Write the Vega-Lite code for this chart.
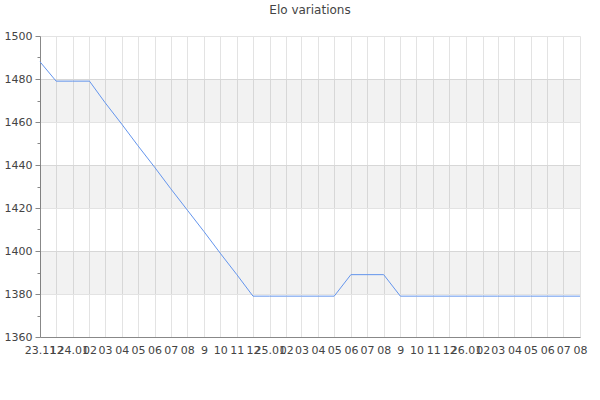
{
  "$schema": "https://vega.github.io/schema/vega-lite/v6.json",
  "width": 540,
  "height": 301,
  "autosize": {"type": "none"},
  "padding": {"left": 40, "top": 36, "right": 20, "bottom": 63},
  "title": {
    "text": "Elo variations",
    "font": "DejaVu Sans",
    "fontSize": 12,
    "fontWeight": "normal",
    "color": "#444",
    "offset": 13
  },
  "datasets": {
    "elo": [
      {"month": "2023-11-01", "elo": 1488},
      {"month": "2023-12-01", "elo": 1479},
      {"month": "2024-01-01", "elo": 1479},
      {"month": "2024-02-01", "elo": 1479},
      {"month": "2024-03-01", "elo": 1469},
      {"month": "2024-04-01", "elo": 1459},
      {"month": "2024-05-01", "elo": 1449},
      {"month": "2024-06-01", "elo": 1439},
      {"month": "2024-07-01", "elo": 1429},
      {"month": "2024-08-01", "elo": 1419},
      {"month": "2024-09-01", "elo": 1409},
      {"month": "2024-10-01", "elo": 1399},
      {"month": "2024-11-01", "elo": 1389},
      {"month": "2024-12-01", "elo": 1379},
      {"month": "2025-01-01", "elo": 1379},
      {"month": "2025-02-01", "elo": 1379},
      {"month": "2025-03-01", "elo": 1379},
      {"month": "2025-04-01", "elo": 1379},
      {"month": "2025-05-01", "elo": 1379},
      {"month": "2025-06-01", "elo": 1389},
      {"month": "2025-07-01", "elo": 1389},
      {"month": "2025-08-01", "elo": 1389},
      {"month": "2025-09-01", "elo": 1379},
      {"month": "2025-10-01", "elo": 1379},
      {"month": "2025-11-01", "elo": 1379},
      {"month": "2025-12-01", "elo": 1379},
      {"month": "2026-01-01", "elo": 1379},
      {"month": "2026-02-01", "elo": 1379},
      {"month": "2026-03-01", "elo": 1379},
      {"month": "2026-04-01", "elo": 1379},
      {"month": "2026-05-01", "elo": 1379},
      {"month": "2026-06-01", "elo": 1379},
      {"month": "2026-07-01", "elo": 1379},
      {"month": "2026-08-01", "elo": 1379}
    ],
    "bands": [
      {"lo": 1460, "hi": 1480},
      {"lo": 1420, "hi": 1440},
      {"lo": 1380, "hi": 1400}
    ]
  },
  "layer": [
    {
      "data": {"name": "bands"},
      "mark": {"type": "rect", "color": "#000", "opacity": 0.05},
      "encoding": {
        "y": {
          "field": "lo",
          "type": "quantitative",
          "scale": {"domain": [1360, 1500], "nice": false},
          "axis": {
            "orient": "left",
            "title": null,
            "format": "d",
            "values": [1360, 1380, 1400, 1420, 1440, 1460, 1480, 1500],
            "tickSize": 5,
            "labelPadding": 3
          }
        },
        "y2": {"field": "hi"}
      }
    },
    {
      "data": {"name": "elo"},
      "mark": {"type": "line", "color": "#6495ed", "strokeWidth": 1},
      "encoding": {
        "x": {
          "field": "month",
          "type": "temporal",
          "scale": {"type": "utc", "domain": ["2023-11-01", "2026-08-01"], "nice": false},
          "axis": {
            "title": null,
            "tickCount": {"interval": "month", "step": 1},
            "ticks": false,
            "labelPadding": 7,
            "labelOverlap": false,
            "labelFlush": false,
            "labelExpr": "(utcmonth(datum.value) == 0 || (utcyear(datum.value) == 2023 && utcmonth(datum.value) == 10)) ? utcFormat(datum.value, '%y.%m') : (utcmonth(datum.value) == 8 ? '9' : utcFormat(datum.value, '%m'))"
          }
        },
        "y": {
          "field": "elo",
          "type": "quantitative",
          "axis": {
            "orient": "left",
            "title": null,
            "values": [1370, 1390, 1410, 1430, 1450, 1470, 1490],
            "labels": false,
            "grid": false,
            "domain": false,
            "tickSize": 3
          }
        }
      }
    }
  ],
  "resolve": {"axis": {"y": "independent"}},
  "config": {
    "view": {"stroke": null},
    "axis": {
      "labelFont": "DejaVu Sans",
      "labelFontSize": 11,
      "labelColor": "#444",
      "gridColor": "#e3e3e3",
      "domainColor": "#888",
      "tickColor": "#888"
    }
  }
}
